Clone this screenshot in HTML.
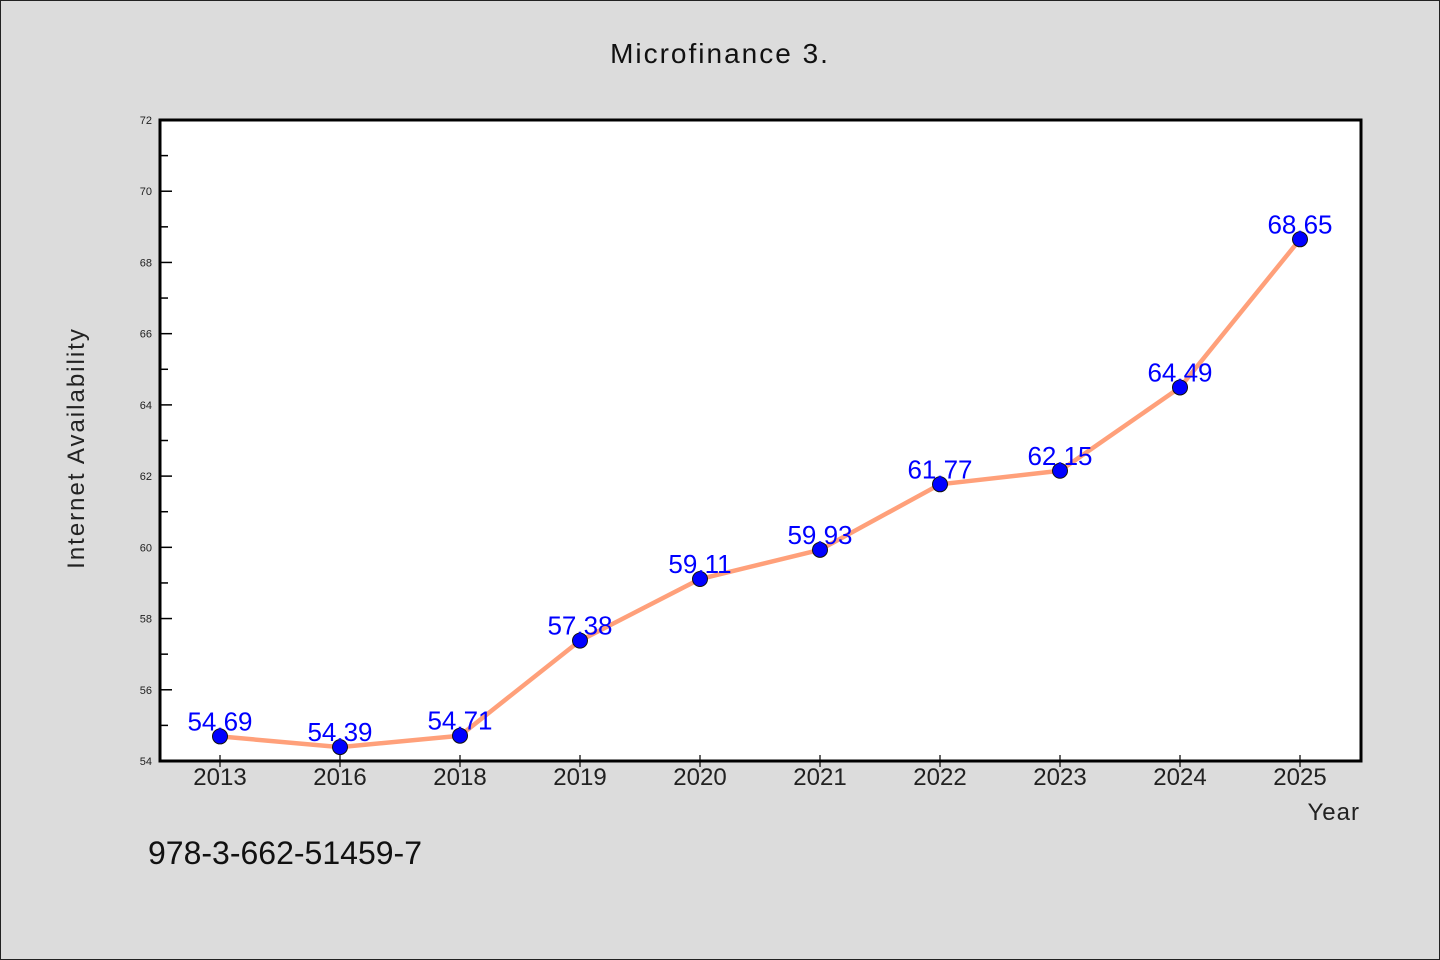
<!DOCTYPE html>
<html><head><meta charset="utf-8"><style>
body{margin:0;background:#dcdcdc;}
svg{display:block;font-family:"WenQuanYi Zen Hei","Liberation Sans",sans-serif;}
</style></head><body>
<svg width="1440" height="960" viewBox="0 0 1440 960">
<rect x="0.5" y="0.5" width="1439" height="959" fill="#dcdcdc" stroke="#222"/>
<text x="720" y="63" text-anchor="middle" font-size="28" letter-spacing="2" fill="#111">Microfinance 3.</text>
<rect x="160" y="120" width="1201" height="641" fill="#fff"/>
<g id="yaxis"></g>
<g id="xaxis"></g>
<g id="series"></g>
<rect x="160" y="120" width="1201" height="641" fill="none" stroke="#000" stroke-width="3"/>
<text transform="translate(84,448) rotate(-90)" text-anchor="middle" font-size="24" letter-spacing="2" fill="#222">Internet Availability</text>
<text x="1360" y="820" text-anchor="end" font-size="24" letter-spacing="1" fill="#222">Year</text>
<text x="148" y="864" font-size="32" fill="#111">978-3-662-51459-7</text>
</svg>
<script>
const categories=["2013","2016","2018","2019","2020","2021","2022","2023","2024","2025"];
const values=[54.69,54.39,54.71,57.38,59.11,59.93,61.77,62.15,64.49,68.65];
const valueLabels=["54.69","54.39","54.71","57.38","59.11","59.93","61.77","62.15","64.49","68.65"];
const yTicks=[54,56,58,60,62,64,66,68,70,72];
const yMinorTicks=[55,57,59,61,63,65,67,69,71];
const NS="http://www.w3.org/2000/svg";
const X0=160,X1=1361,Y0=761,Y1=120,YMIN=54,YMAX=72;
function y(v){return Y0-(v-YMIN)/(YMAX-YMIN)*(Y0-Y1);}
function x(i){return 220+i*120;}
function mk(tag,attrs,parent){const e=document.createElementNS(NS,tag);for(const k in attrs)e.setAttribute(k,attrs[k]);parent.appendChild(e);return e;}
const ya=document.getElementById('yaxis'),xa=document.getElementById('xaxis'),sg=document.getElementById('series');
yTicks.forEach(t=>{
 const l=mk('line',{x1:X0,x2:X0+12,y1:y(t),y2:y(t),stroke:'#000','stroke-width':1.5},ya);
 
 
 const tx=mk('text',{x:X0-8,y:y(t)+4,'text-anchor':'end','font-size':11,fill:'#222'},ya);
 tx.textContent=t;
 
 
});
yMinorTicks.forEach(t=>{
 const l=mk('line',{x1:X0,x2:X0+8,y1:y(t),y2:y(t),stroke:'#000','stroke-width':1.5},ya);
 
 
});
categories.forEach((c,i)=>{
 const l=mk('line',{x1:x(i),x2:x(i),y1:Y0-6,y2:Y0+6,stroke:'#000','stroke-width':1.2},xa);
 
 
 const tx=mk('text',{x:x(i),y:785,'text-anchor':'middle','font-size':24,fill:'#222'},xa);
 tx.textContent=c;
 
 
});
const pl=mk('polyline',{points:values.map((v,i)=>x(i)+','+y(v)).join(' '),fill:'none',stroke:'#ffa07a','stroke-width':4.5,'stroke-linejoin':'round'},sg);


values.forEach((v,i)=>{
 const c=mk('circle',{cx:x(i),cy:y(v),r:7.5,fill:'#0000ff',stroke:'#111','stroke-width':1},sg);
 
 
 const t=mk('text',{x:x(i),y:y(v)-6,'text-anchor':'middle','font-size':26,fill:'#0000ff'},sg);
 t.textContent=valueLabels[i];
 
 
});
</script>
</body></html>
